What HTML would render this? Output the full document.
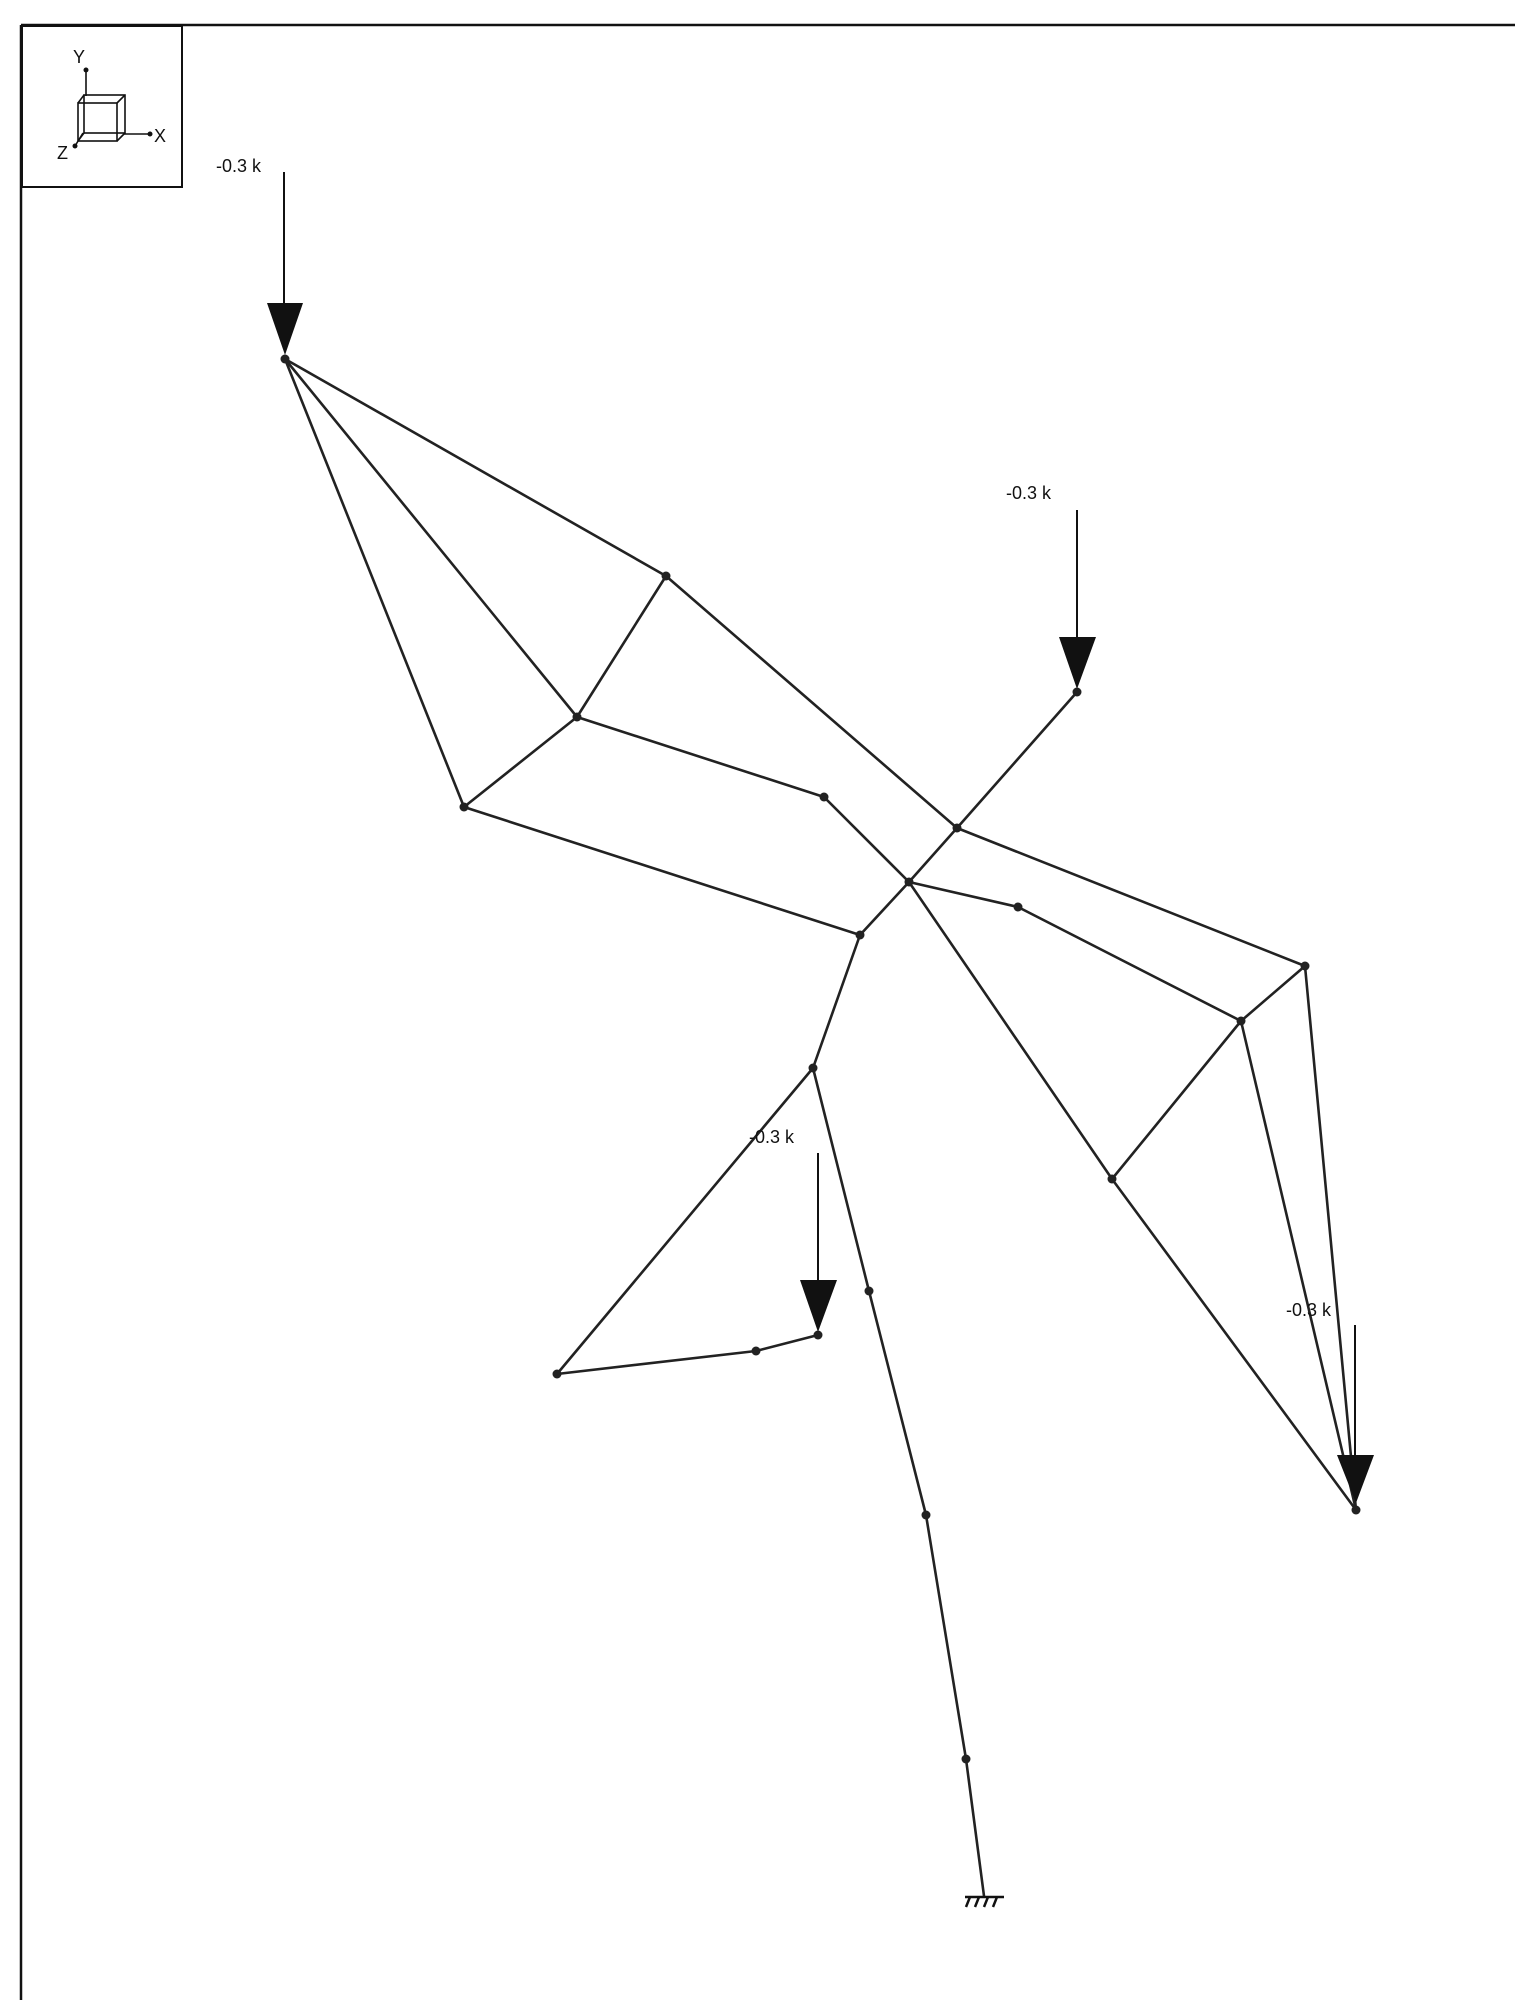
<!DOCTYPE html>
<html><head><meta charset="utf-8"><style>
html,body{margin:0;padding:0;background:#fff;width:1515px;height:2000px;overflow:hidden}
svg{display:block}
text{font-family:"Liberation Sans",sans-serif;font-size:18px;fill:#111}
</style></head><body>
<svg width="1515" height="2000" viewBox="0 0 1515 2000">
<g stroke="#111" fill="none" stroke-width="2.5">
<line x1="21" y1="25" x2="1515" y2="25"/>
<line x1="21" y1="25" x2="21" y2="2000"/>
<rect x="22" y="26" width="160" height="161" stroke-width="2"/>
</g>
<!-- axis icon -->
<g stroke="#111" fill="none" stroke-width="1.6">
<line x1="86" y1="70" x2="86" y2="96"/>
<line x1="124" y1="134" x2="150" y2="134"/>
<line x1="83" y1="133" x2="75" y2="146"/>
<rect x="78" y="103" width="39" height="38"/>
<rect x="84" y="95" width="41" height="38"/>
<line x1="78" y1="103" x2="84" y2="95"/><line x1="117" y1="103" x2="125" y2="95"/>
<line x1="78" y1="141" x2="84" y2="133"/><line x1="117" y1="141" x2="125" y2="133"/>
</g>
<g fill="#111"><circle cx="86" cy="70" r="2.5"/><circle cx="150" cy="134" r="2.5"/><circle cx="75" cy="146" r="2.5"/></g>
<text x="73" y="63" font-size="17">Y</text>
<text x="154" y="142" font-size="17">X</text>
<text x="57" y="159" font-size="17">Z</text>

<g stroke="#222" stroke-width="2.6" fill="none" stroke-linecap="round">
<line x1="285" y1="359" x2="666" y2="576"/>
<line x1="285" y1="359" x2="577" y2="717"/>
<line x1="285" y1="359" x2="464" y2="807"/>
<line x1="666" y1="576" x2="577" y2="717"/>
<line x1="666" y1="576" x2="957" y2="828"/>
<line x1="577" y1="717" x2="464" y2="807"/>
<line x1="577" y1="717" x2="824" y2="797"/>
<line x1="824" y1="797" x2="909" y2="882"/>
<line x1="464" y1="807" x2="860" y2="935"/>
<line x1="957" y1="828" x2="1077" y2="692"/>
<line x1="957" y1="828" x2="1305" y2="966"/>
<line x1="909" y1="882" x2="957" y2="828"/>
<line x1="909" y1="882" x2="860" y2="935"/>
<line x1="909" y1="882" x2="1018" y2="907"/>
<line x1="909" y1="882" x2="1112" y2="1179"/>
<line x1="1018" y1="907" x2="1241" y2="1021"/>
<line x1="1305" y1="966" x2="1241" y2="1021"/>
<line x1="1241" y1="1021" x2="1112" y2="1179"/>
<line x1="1305" y1="966" x2="1356" y2="1510"/>
<line x1="1241" y1="1021" x2="1356" y2="1510"/>
<line x1="1112" y1="1179" x2="1356" y2="1510"/>
<line x1="860" y1="935" x2="813" y2="1068"/>
<line x1="813" y1="1068" x2="557" y2="1374"/>
<line x1="557" y1="1374" x2="756" y2="1351"/>
<line x1="756" y1="1351" x2="818" y2="1335"/>
<line x1="813" y1="1068" x2="869" y2="1291"/>
<line x1="869" y1="1291" x2="926" y2="1515"/>
<line x1="926" y1="1515" x2="966" y2="1759"/>
<line x1="966" y1="1759" x2="984" y2="1896"/>
</g>
<g fill="#222">
<circle cx="285" cy="359" r="4.5"/><circle cx="666" cy="576" r="4.5"/><circle cx="577" cy="717" r="4.5"/>
<circle cx="464" cy="807" r="4.5"/><circle cx="824" cy="797" r="4.5"/><circle cx="957" cy="828" r="4.5"/>
<circle cx="909" cy="882" r="4.5"/><circle cx="860" cy="935" r="4.5"/><circle cx="1018" cy="907" r="4.5"/>
<circle cx="1077" cy="692" r="4.5"/><circle cx="1305" cy="966" r="4.5"/><circle cx="1241" cy="1021" r="4.5"/>
<circle cx="1112" cy="1179" r="4.5"/><circle cx="1356" cy="1510" r="4.5"/><circle cx="813" cy="1068" r="4.5"/>
<circle cx="557" cy="1374" r="4.5"/><circle cx="756" cy="1351" r="4.5"/><circle cx="818" cy="1335" r="4.5"/>
<circle cx="869" cy="1291" r="4.5"/><circle cx="926" cy="1515" r="4.5"/><circle cx="966" cy="1759" r="4.5"/>
</g>
<!-- loads -->
<g stroke="#111" stroke-width="2">
<line x1="284" y1="172" x2="284" y2="305"/>
<line x1="1077" y1="510" x2="1077" y2="639"/>
<line x1="818" y1="1153" x2="818" y2="1282"/>
<line x1="1355" y1="1325" x2="1355" y2="1457"/>
</g>
<g fill="#111">
<polygon points="267,303 303,303 285,355"/>
<polygon points="1059,637 1096,637 1077,689"/>
<polygon points="800,1280 837,1280 818,1332"/>
<polygon points="1337,1455 1374,1455 1356,1503"/>
</g>
<text x="216" y="172">-0.3 k</text>
<text x="1006" y="499">-0.3 k</text>
<text x="749" y="1143">-0.3 k</text>
<text x="1286" y="1316">-0.3 k</text>
<!-- support -->
<g stroke="#111" stroke-width="2.5">
<line x1="965" y1="1897" x2="1004" y2="1897"/>
<line x1="970" y1="1897" x2="966" y2="1907"/>
<line x1="979" y1="1897" x2="975" y2="1907"/>
<line x1="988" y1="1897" x2="984" y2="1907"/>
<line x1="997" y1="1897" x2="993" y2="1907"/>
</g>
</svg>
</body></html>
